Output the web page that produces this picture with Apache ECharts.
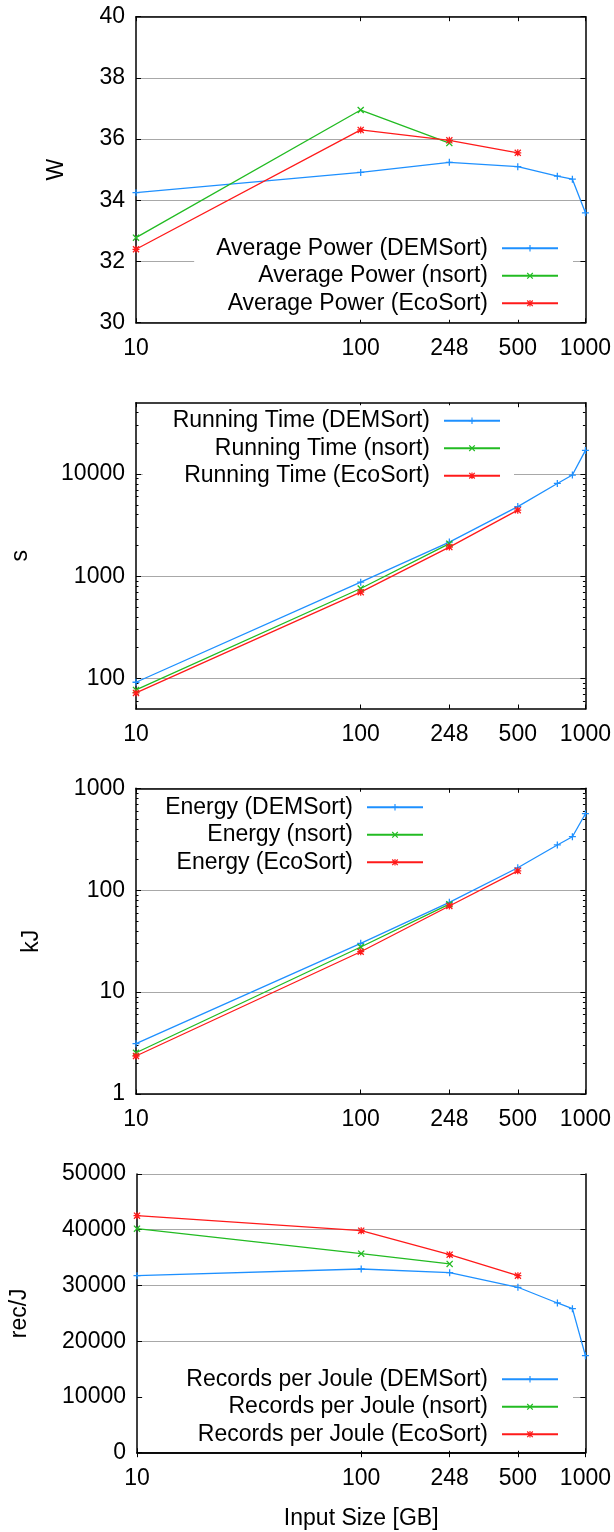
<!DOCTYPE html>
<html>
<head>
<meta charset="UTF-8"/>
<title>Sort benchmark</title>
<script src="https://cdn.jsdelivr.net/npm/echarts@6/dist/echarts.min.js"></script>
<style>
  html, body { margin: 0; padding: 0; background: #fff; }
  #chart { width: 614px; height: 1532px; }
</style>
</head>
<body>
<div id="chart"></div>
<script>
// input sizes in GB
var demSizes = [10, 100, 248, 500, 750, 875, 1000];
var nsortSizes = [10, 100, 248];
var ecoSizes = [10, 100, 248, 500];
var xTicks = [10, 100, 248, 500, 1000];

// average power, W
var demPower = [34.25, 34.91, 35.24, 35.10, 34.79, 34.69, 33.59];
var nsortPower = [32.78, 36.95, 35.87];
var ecoPower = [32.40, 36.30, 35.96, 35.55];

// running time, s
var demTime = [91.4, 873, 2158, 4800, 8090, 9780, 17060];
var nsortTime = [76.9, 757, 2080];
var ecoTime = [71.8, 697, 1928, 4430];

// energy, kJ
var demEnergy = [3.12, 30.1, 76, 166, 278, 335, 563];
var nsortEnergy = [2.54, 27.7, 73];
var ecoEnergy = [2.36, 24.9, 70, 155];

// records per joule
var demRecJ = [31760, 32960, 32300, 29680, 26860, 25840, 17410];
var nsortRecJ = [40200, 35710, 33860];
var ecoRecJ = [42530, 39840, 35530, 31760];

// y tick labels
var powerTicks = [30, 32, 34, 36, 38, 40];
var timeTicks = [100, 1000, 10000];
var timeMinor = [60, 70, 80, 90, 200, 300, 400, 500, 600, 700, 800, 900,
  2000, 3000, 4000, 5000, 6000, 7000, 8000, 9000, 20000, 30000, 40000];
var energyTicks = [1, 10, 100, 1000];
var energyMinor = [2, 3, 4, 5, 6, 7, 8, 9, 20, 30, 40, 50, 60, 70, 80, 90,
  200, 300, 400, 500, 600, 700, 800, 900];
var recTicks = [0, 10000, 20000, 30000, 40000, 50000];

var FONT = '"Liberation Sans", Arial, sans-serif';
var BLUE = '#1e90ff', GREEN = '#22bb22', RED = '#ff1a1a';

var PLUS = 'path://M4.1,0H5.9V4.1H10V5.9H5.9V10H4.1V5.9H0V4.1H4.1Z';
var CROSS = 'path://M0,1.3L1.3,0L5,3.7L8.7,0L10,1.3L6.3,5L10,8.7L8.7,10L5,6.3L1.3,10L0,8.7L3.7,5Z';
var STAR = PLUS + ' ' + CROSS.replace('path://', '');

var panels = [
  { top: 16.7, height: 306, type: 'value', min: 30, max: 40, ticks: powerTicks, minor: null,
    name: 'W', nameGap: 68, prefix: 'Average Power',
    vals: [demPower, nsortPower, ecoPower],
    legend: { right: 41, top: 228.8, padding: [8, 14, 5, 22] } },
  { top: 402.7, height: 306.3, type: 'log', min: 50, max: 50000, ticks: timeTicks, minor: timeMinor,
    name: 's', nameGap: 104, prefix: 'Running Time',
    vals: [demTime, nsortTime, ecoTime],
    legend: { right: 100, top: 405.2, padding: [4, 13, 4, 30] } },
  { top: 788.3, height: 305.7, type: 'log', min: 1, max: 1000, ticks: energyTicks, minor: energyMinor,
    name: 'kJ', nameGap: 93, prefix: 'Energy',
    vals: [demEnergy, nsortEnergy, ecoEnergy],
    legend: { right: 178, top: 791.8, padding: [4, 12, 4, 20] } },
  { top: 1174, height: 278.7, type: 'value', min: 0, max: 50000, ticks: recTicks, minor: null,
    name: 'rec/J', nameGap: 106, prefix: 'Records per Joule',
    vals: [demRecJ, nsortRecJ, ecoRecJ],
    legend: { right: 41, top: 1359.8, padding: [8, 14, 5, 44] } }
];

var grids = [], xAxes = [], yAxes = [], series = [], legends = [];
var blackLine = { show: true, lineStyle: { color: '#000', width: 1.5 } };
var fmt = function (v) { return String(v); };

panels.forEach(function (p, i) {
  grids.push({ left: 136, right: 28.5, top: p.top, height: p.height, containLabel: false });

  var xBase = { gridIndex: i, type: 'log', logBase: 10, min: 10, max: 1000,
    axisLine: blackLine, splitLine: { show: false } };
  var xBottom = Object.assign({}, xBase, {
    position: 'bottom',
    axisTick: { show: true, inside: true, length: 4.5, customValues: xTicks, lineStyle: { color: '#000' } },
    axisLabel: { customValues: xTicks, formatter: fmt, fontSize: 23, fontFamily: FONT, color: '#000', margin: 14 }
  });
  if (i === panels.length - 1) {
    xBottom.name = 'Input Size [GB]';
    xBottom.nameLocation = 'middle';
    xBottom.nameGap = 54;
    xBottom.nameTextStyle = { fontSize: 23, fontFamily: FONT, color: '#000' };
  }
  var xTop = Object.assign({}, xBase, {
    position: 'top',
    axisTick: { show: true, inside: true, length: 4.5, customValues: xTicks, lineStyle: { color: '#000' } },
    axisLabel: { show: false }
  });
  xAxes.push(xBottom, xTop);

  var yBase = { gridIndex: i, type: p.type, min: p.min, max: p.max };
  if (p.type === 'log') yBase.logBase = 10;
  var mainIdx = yAxes.length;
  yAxes.push(Object.assign({}, yBase, {
    position: 'left',
    axisLine: blackLine,
    axisTick: { show: true, inside: true, length: 5, customValues: p.ticks, lineStyle: { color: '#000' } },
    axisLabel: { customValues: p.ticks, formatter: fmt, fontSize: 23, fontFamily: FONT, color: '#000', margin: 11 },
    splitLine: { show: true, lineStyle: { color: '#a8a8a8', width: 1 } },
    name: p.name, nameLocation: 'middle', nameGap: p.nameGap,
    nameTextStyle: { fontSize: 23, fontFamily: FONT, color: '#000' }
  }));
  yAxes.push(Object.assign({}, yBase, {
    position: 'right',
    axisLine: blackLine,
    axisTick: { show: true, inside: true, length: 5, customValues: p.ticks, lineStyle: { color: '#000' } },
    axisLabel: { show: false },
    splitLine: { show: false }
  }));
  if (p.minor) {
    ['left', 'right'].forEach(function (pos) {
      yAxes.push(Object.assign({}, yBase, {
        position: pos,
        axisLine: { show: false },
        axisTick: { show: true, inside: true, length: 2.5, customValues: p.minor, lineStyle: { color: '#000' } },
        axisLabel: { show: false },
        splitLine: { show: false }
      }));
    });
  }

  var names = [p.prefix + ' (DEMSort)', p.prefix + ' (nsort)', p.prefix + ' (EcoSort)'];
  var sizes = [demSizes, nsortSizes, ecoSizes];
  var colors = [BLUE, GREEN, RED];
  var symbols = [PLUS, CROSS, STAR];
  names.forEach(function (n, k) {
    series.push({
      type: 'line', name: n, xAxisIndex: 2 * i, yAxisIndex: mainIdx,
      data: sizes[k].map(function (x, j) { return [x, p.vals[k][j]]; }),
      symbol: symbols[k], symbolSize: 7, showSymbol: true,
      lineStyle: { color: colors[k], width: 1.3 },
      itemStyle: { color: colors[k] },
      clip: false, z: 3
    });
  });

  legends.push({
    orient: 'vertical', align: 'right', right: p.legend.right, top: p.legend.top,
    padding: p.legend.padding, backgroundColor: '#fff',
    itemWidth: 56, itemHeight: 8, itemGap: 4.5, selectedMode: false,
    textStyle: { fontSize: 23, fontFamily: FONT, color: '#000', lineHeight: 23, padding: [0, 9, 0, 0] },
    data: names
  });
});

var chart = echarts.init(document.getElementById('chart'));
chart.setOption({
  animation: false,
  backgroundColor: '#fff',
  grid: grids,
  xAxis: xAxes,
  yAxis: yAxes,
  legend: legends,
  series: series
});
</script>
</body>
</html>
